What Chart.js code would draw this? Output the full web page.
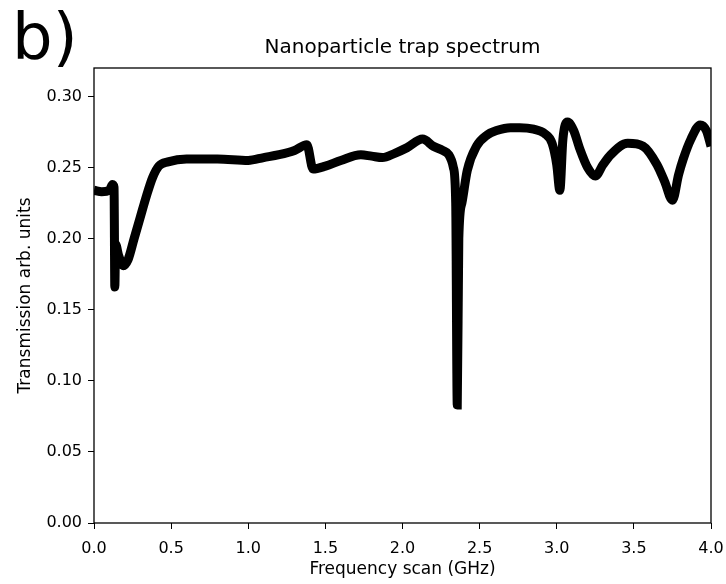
<!DOCTYPE html>
<html>
<head>
<meta charset="utf-8">
<script src="https://cdn.jsdelivr.net/npm/chart.js@4"></script>
<style>
  body { margin: 0; background: #fff; }
  #wrap { position: relative; width: 726px; height: 584px; }
  #panel {
    position: absolute; left: 12px; top: 5px;
    font-family: "DejaVu Sans", sans-serif; font-size: 64px; line-height: 1;
    color: #000;
  }
</style>
</head>
<body>
<div id="wrap">
  <canvas id="chart"></canvas>
  <div id="panel">b)</div>
</div>
<script>
// frequency (GHz) and transmission
const freq = [
  0.00, 0.05, 0.10, 0.12, 0.13, 0.135, 0.14, 0.16, 0.19, 0.22,
  0.26, 0.30, 0.34, 0.38, 0.42, 0.48, 0.60, 0.80, 1.00, 1.10,
  1.20, 1.30, 1.38, 1.42, 1.50, 1.60, 1.73, 1.80, 1.87, 1.95,
  2.03, 2.13, 2.20, 2.26, 2.30, 2.33, 2.345, 2.355, 2.365, 2.385,
  2.42, 2.48, 2.55, 2.61, 2.70, 2.76, 2.85, 2.92, 2.97, 3.00,
  3.02, 3.04, 3.07, 3.11, 3.15, 3.20, 3.25, 3.30, 3.35, 3.46,
  3.56, 3.65, 3.70, 3.75, 3.79, 3.82, 3.87, 3.93, 3.97, 4.00
];
const transmission = [
  0.234, 0.233, 0.234, 0.238, 0.236, 0.166, 0.196, 0.188, 0.181, 0.185,
  0.200, 0.215, 0.230, 0.243, 0.251, 0.254, 0.256, 0.256, 0.255, 0.257,
  0.259, 0.262, 0.266, 0.249, 0.251, 0.255, 0.259, 0.258, 0.257, 0.260,
  0.264, 0.270, 0.265, 0.262, 0.259, 0.250, 0.225, 0.083, 0.200, 0.225,
  0.248, 0.265, 0.273, 0.276, 0.278, 0.278, 0.277, 0.274, 0.267, 0.252,
  0.234, 0.270, 0.282, 0.276, 0.263, 0.250, 0.244, 0.252, 0.259, 0.267,
  0.265, 0.252, 0.240, 0.227, 0.245, 0.256, 0.270, 0.280, 0.276, 0.265
];

const FONT = '"DejaVu Sans", sans-serif';

// closed frame round the axes
const frame = {
  id: 'frame',
  afterDatasetsDraw(chart) {
    const { ctx, chartArea: a } = chart;
    ctx.save();
    ctx.strokeStyle = '#000';
    ctx.lineWidth = 1.3;
    ctx.strokeRect(a.left, a.top, a.right - a.left, a.bottom - a.top);
    ctx.restore();
  }
};

new Chart(document.getElementById('chart'), {
  type: 'line',
  data: {
    datasets: [{
      data: freq.map((f, i) => ({ x: f, y: transmission[i] })),
      borderColor: '#000',
      borderWidth: 9,
      pointRadius: 0,
      tension: 0.3,
      cubicInterpolationMode: 'monotone'
    }]
  },
  options: {
    responsive: true,
    maintainAspectRatio: false,
    animation: false,
    layout: { padding: { left: 0, right: 15, top: 0, bottom: 0 } },
    plugins: {
      legend: { display: false },
      tooltip: { enabled: false },
      title: {
        display: true,
        text: 'Nanoparticle trap spectrum',
        fullSize: false,
        color: '#000',
        font: { family: FONT, size: 20, weight: 'normal' },
        padding: { top: 36, bottom: 8 }
      }
    },
    scales: {
      x: {
        type: 'linear',
        min: 0, max: 4,
        afterFit: s => { s.height = 61; s.paddingLeft = 0; s.paddingRight = 0; },
        border: { display: false },
        grid: { drawOnChartArea: false, drawTicks: true, tickLength: 6, color: '#000' },
        ticks: {
          stepSize: 0.5, color: '#000', padding: 10, maxRotation: 0,
          font: { family: FONT, size: 16 },
          callback: v => v.toFixed(1)
        },
        title: {
          display: true, text: 'Frequency scan (GHz)', color: '#000',
          font: { family: FONT, size: 17 }, padding: { top: 0, bottom: 4 }
        }
      },
      y: {
        min: 0, max: 0.32,
        afterFit: s => { s.width = 94; s.paddingTop = 0; s.paddingBottom = 0; },
        border: { display: false },
        grid: { drawOnChartArea: false, drawTicks: true, tickLength: 6, color: '#000' },
        ticks: {
          stepSize: 0.05, includeBounds: false, color: '#000', padding: 6,
          font: { family: FONT, size: 16 },
          callback: v => v.toFixed(2)
        },
        title: {
          display: true, text: 'Transmission arb. units', color: '#000',
          font: { family: FONT, size: 17 }, padding: { top: 15, bottom: 0 }
        }
      }
    }
  },
  plugins: [frame]
});
</script>
</body>
</html>
